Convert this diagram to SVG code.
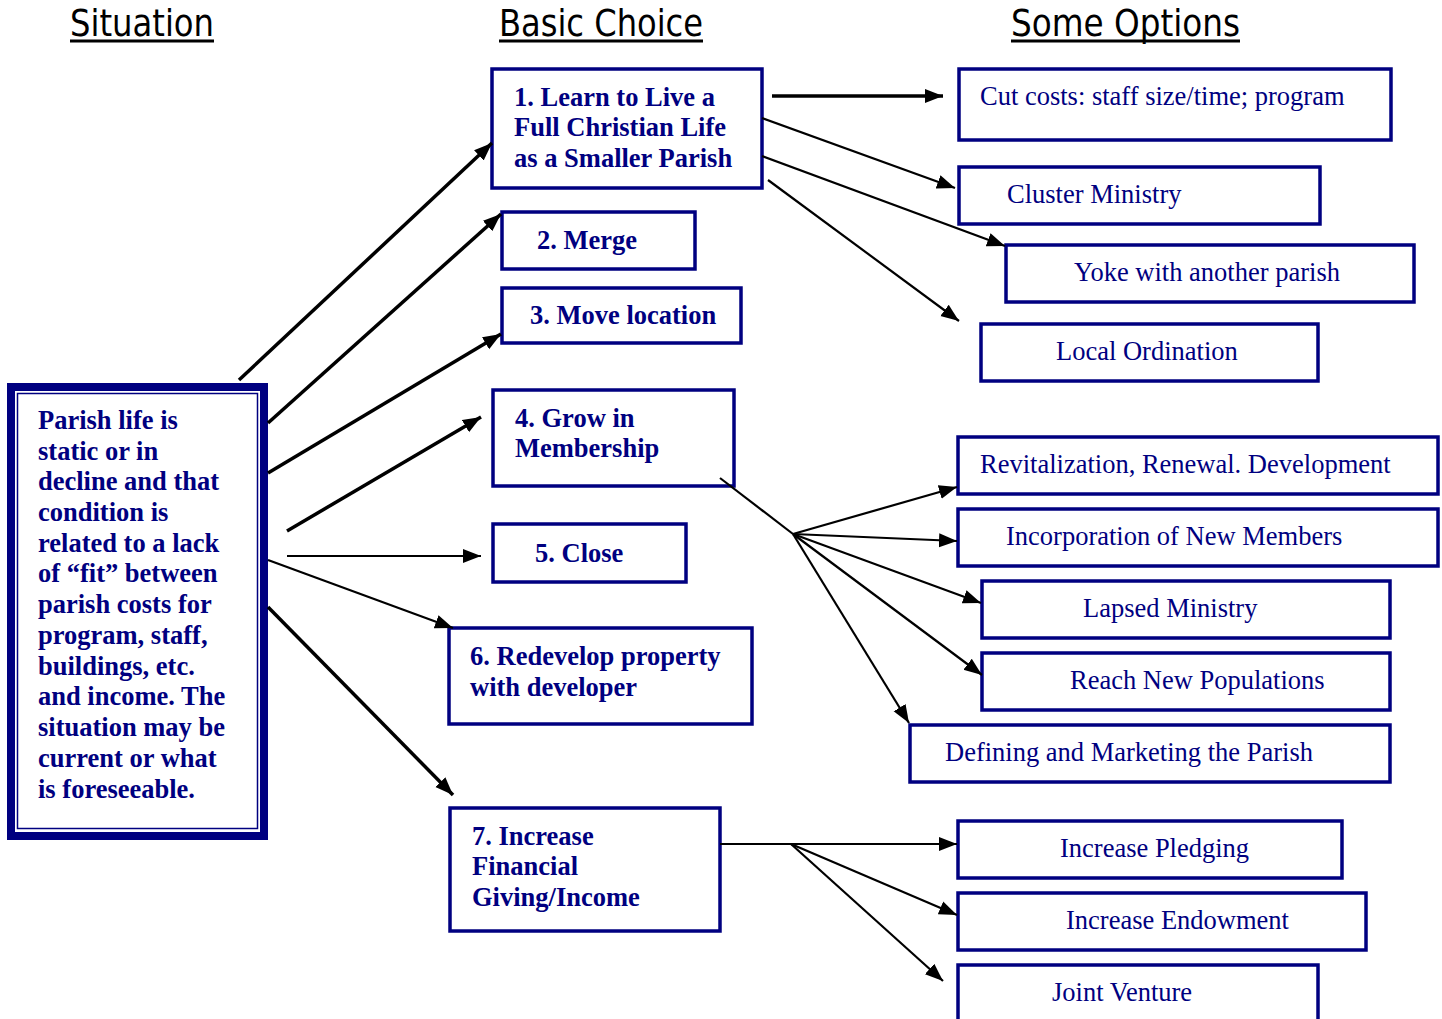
<svg xmlns="http://www.w3.org/2000/svg" width="1442" height="1019" viewBox="0 0 1442 1019">
<defs>
<marker id="ah" markerUnits="userSpaceOnUse" markerWidth="20" markerHeight="16" refX="18" refY="7" orient="auto" viewBox="0 0 20 14">
<path d="M0,0 L18,7 L0,14 z" fill="#000"/>
</marker>
<style>
.h{font-family:"DejaVu Sans Condensed","DejaVu Sans",sans-serif;font-size:38px;fill:#000}
.u{stroke:#000;stroke-width:3}
.bx{fill:#fff;stroke:#000080;stroke-width:3.5}
.b{font-family:"Liberation Serif",serif;font-weight:bold;font-size:26.5px;fill:#000080}
.r{font-family:"Liberation Serif",serif;font-size:26.5px;fill:#000080}
.c{stroke:#000;fill:none}
.t{stroke-width:3.5}
.n{stroke-width:2.2}
</style>
</defs>
<rect width="1442" height="1019" fill="#fff"/>

<g id="headings">
<text class="h" x="70" y="36" textLength="144" lengthAdjust="spacingAndGlyphs">Situation</text>
<line class="u" x1="70" y1="41" x2="214" y2="41"/>
<text class="h" x="499" y="36" textLength="204" lengthAdjust="spacingAndGlyphs">Basic Choice</text>
<line class="u" x1="499" y1="41" x2="703" y2="41"/>
<text class="h" x="1011" y="36" textLength="229" lengthAdjust="spacingAndGlyphs">Some Options</text>
<line class="u" x1="1011" y1="41" x2="1240" y2="41"/>
</g>

<g id="situation">
<rect x="11" y="387" width="253" height="449" fill="#fff" stroke="#000080" stroke-width="8"/>
<rect x="17.5" y="393.5" width="240" height="435" fill="none" stroke="#000080" stroke-width="1.5"/>
<text class="b">
<tspan x="38" y="429">Parish life is</tspan>
<tspan x="38" y="460">static or in</tspan>
<tspan x="38" y="490">decline and that</tspan>
<tspan x="38" y="521">condition is</tspan>
<tspan x="38" y="552">related to a lack</tspan>
<tspan x="38" y="582">of “fit” between</tspan>
<tspan x="38" y="613">parish costs for</tspan>
<tspan x="38" y="644">program, staff,</tspan>
<tspan x="38" y="675">buildings, etc.</tspan>
<tspan x="38" y="705">and income. The</tspan>
<tspan x="38" y="736">situation may be</tspan>
<tspan x="38" y="767">current or what</tspan>
<tspan x="38" y="798">is foreseeable.</tspan>
</text>
</g>

<g id="choice1">
<rect class="bx" x="492" y="69" width="270" height="119"/>
<text class="b"><tspan x="514" y="106">1. Learn to Live a</tspan><tspan x="514" y="136">Full Christian Life</tspan><tspan x="514" y="167">as a Smaller Parish</tspan></text>
</g>
<g id="choice2">
<rect class="bx" x="502" y="212" width="193" height="57"/>
<text class="b" x="537" y="249">2. Merge</text>
</g>
<g id="choice3">
<rect class="bx" x="502" y="288" width="239" height="55"/>
<text class="b" x="530" y="324">3. Move location</text>
</g>
<g id="choice4">
<rect class="bx" x="493" y="390" width="241" height="96"/>
<text class="b"><tspan x="515" y="427">4. Grow in</tspan><tspan x="515" y="457">Membership</tspan></text>
</g>
<g id="choice5">
<rect class="bx" x="493" y="524" width="193" height="58"/>
<text class="b" x="535" y="562">5. Close</text>
</g>
<g id="choice6">
<rect class="bx" x="449" y="628" width="303" height="96"/>
<text class="b"><tspan x="470" y="665">6. Redevelop property</tspan><tspan x="470" y="696">with developer</tspan></text>
</g>
<g id="choice7">
<rect class="bx" x="450" y="808" width="270" height="123"/>
<text class="b"><tspan x="472" y="845">7. Increase</tspan><tspan x="472" y="875">Financial</tspan><tspan x="472" y="906">Giving/Income</tspan></text>
</g>

<g id="opt-cutcosts">
<rect class="bx" x="959" y="69" width="432" height="71"/>
<text class="r" x="980" y="105">Cut costs: staff size/time; program</text>
</g>
<g id="opt-cluster">
<rect class="bx" x="959" y="167" width="361" height="57"/>
<text class="r" x="1007" y="203">Cluster Ministry</text>
</g>
<g id="opt-yoke">
<rect class="bx" x="1006" y="245" width="408" height="57"/>
<text class="r" x="1074" y="281">Yoke with another parish</text>
</g>
<g id="opt-local">
<rect class="bx" x="981" y="324" width="337" height="57"/>
<text class="r" x="1056" y="360">Local Ordination</text>
</g>
<g id="opt-revital">
<rect class="bx" x="958" y="437" width="480" height="57"/>
<text class="r" x="980" y="473">Revitalization, Renewal. Development</text>
</g>
<g id="opt-incorp">
<rect class="bx" x="958" y="509" width="480" height="57"/>
<text class="r" x="1006" y="545">Incorporation of New Members</text>
</g>
<g id="opt-lapsed">
<rect class="bx" x="982" y="581" width="408" height="57"/>
<text class="r" x="1083" y="617">Lapsed Ministry</text>
</g>
<g id="opt-reach">
<rect class="bx" x="982" y="653" width="408" height="57"/>
<text class="r" x="1070" y="689">Reach New Populations</text>
</g>
<g id="opt-defining">
<rect class="bx" x="910" y="725" width="480" height="57"/>
<text class="r" x="945" y="761">Defining and Marketing the Parish</text>
</g>
<g id="opt-pledging">
<rect class="bx" x="958" y="821" width="384" height="57"/>
<text class="r" x="1060" y="857">Increase Pledging</text>
</g>
<g id="opt-endowment">
<rect class="bx" x="958" y="893" width="408" height="57"/>
<text class="r" x="1066" y="929">Increase Endowment</text>
</g>
<g id="opt-joint">
<rect class="bx" x="958" y="965" width="360" height="60"/>
<text class="r" x="1052" y="1001">Joint Venture</text>
</g>

<g id="connectors">
<line class="c t" x1="239" y1="380" x2="492" y2="143" marker-end="url(#ah)"/>
<line class="c t" x1="268" y1="423" x2="501" y2="214" marker-end="url(#ah)"/>
<line class="c t" x1="268" y1="473" x2="501" y2="334" marker-end="url(#ah)"/>
<line class="c t" x1="287" y1="531" x2="481" y2="417" marker-end="url(#ah)"/>
<line class="c n" x1="287" y1="556" x2="481" y2="556" marker-end="url(#ah)"/>
<line class="c n" x1="268" y1="560" x2="453" y2="628" marker-end="url(#ah)"/>
<line class="c t" x1="268" y1="607" x2="453" y2="795" marker-end="url(#ah)"/>

<line class="c t" x1="772" y1="96" x2="943" y2="96" marker-end="url(#ah)"/>
<line class="c n" x1="762" y1="118" x2="955" y2="188" marker-end="url(#ah)"/>
<line class="c n" x1="762" y1="156" x2="1005" y2="246" marker-end="url(#ah)"/>
<line class="c n" x1="768" y1="180" x2="959" y2="321" marker-end="url(#ah)"/>

<line class="c n" x1="720" y1="478" x2="793" y2="534"/>
<line class="c n" x1="793" y1="534" x2="957" y2="487" marker-end="url(#ah)"/>
<line class="c n" x1="793" y1="534" x2="957" y2="541" marker-end="url(#ah)"/>
<line class="c n" x1="793" y1="534" x2="981" y2="603" marker-end="url(#ah)"/>
<line class="c n" x1="793" y1="534" x2="982" y2="675" marker-end="url(#ah)"/>
<line class="c n" x1="793" y1="534" x2="909" y2="723" marker-end="url(#ah)"/>

<line class="c n" x1="720" y1="844" x2="957" y2="844" marker-end="url(#ah)"/>
<line class="c n" x1="791" y1="844" x2="957" y2="915" marker-end="url(#ah)"/>
<line class="c n" x1="791" y1="844" x2="943" y2="981" marker-end="url(#ah)"/>
</g>
</svg>
